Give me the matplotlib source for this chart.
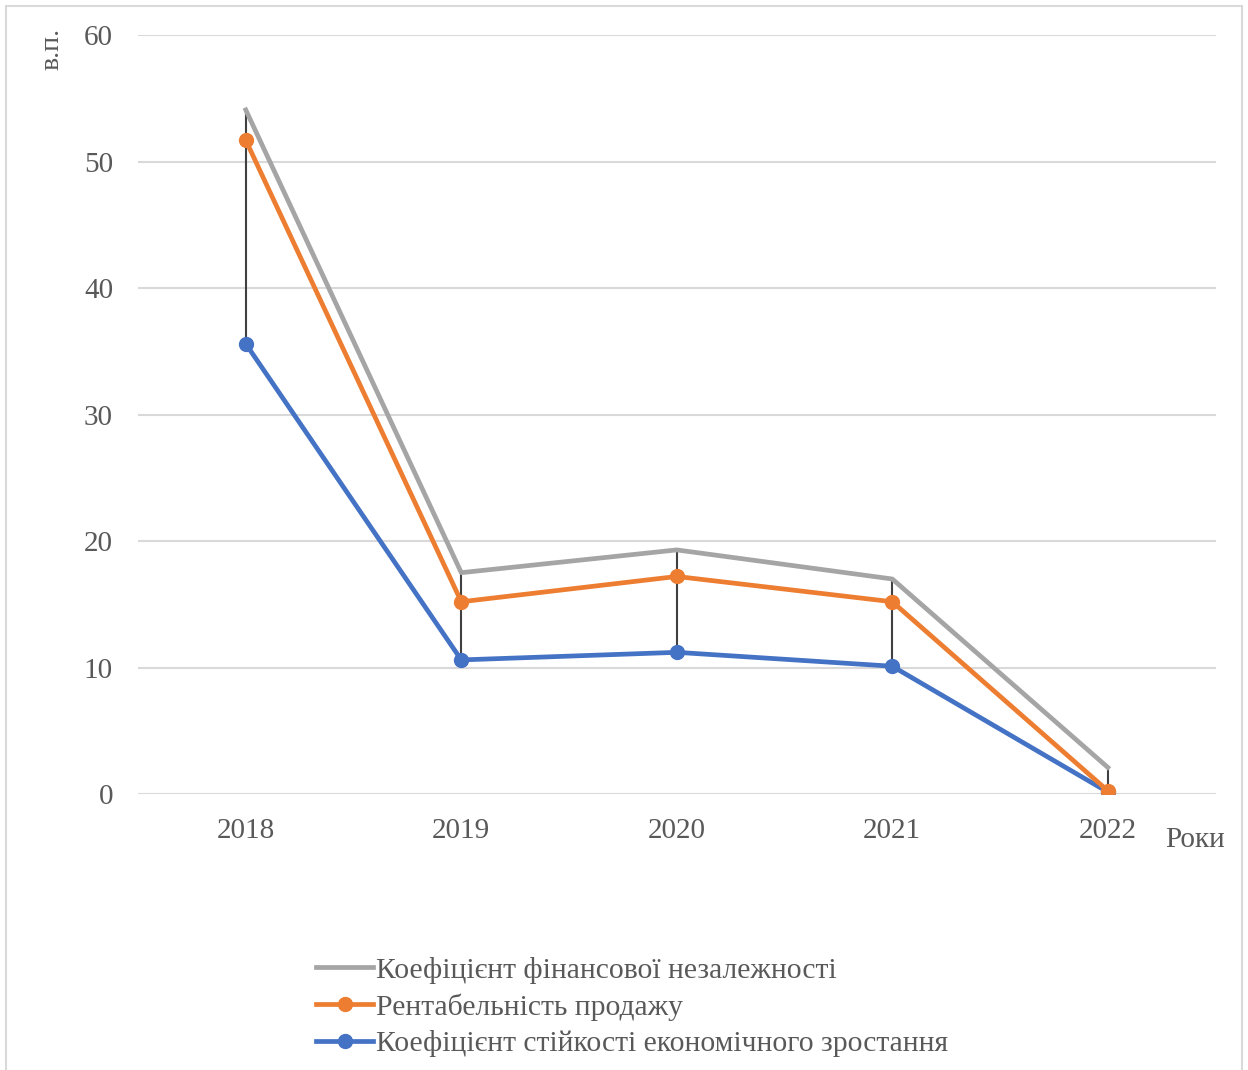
import matplotlib.pyplot as plt
import numpy as np
from matplotlib.patches import Rectangle

plt.rcParams['font.family'] = ['Liberation Serif', 'DejaVu Serif']

years = ['2018', '2019', '2020', '2021', '2022']
fin_independence = [54.1, 17.5, 19.3, 17.0, 2.1]
sales_profitability = [51.7, 15.2, 17.2, 15.2, 0.25]
growth_stability = [35.6, 10.6, 11.2, 10.1, 0.15]

labels = ['Коефіцієнт фінансової незалежності',
          'Рентабельність продажу',
          'Коефіцієнт стійкості економічного зростання']
colors = ['#a5a5a5', '#ed7d31', '#4472c4']
text_color = '#595959'

fig = plt.figure(figsize=(12.48, 10.7), dpi=100)
ax = fig.add_axes([0.1106, 0.258, 0.8634, 0.709])

x = np.arange(len(years))
series = np.array([fin_independence, sales_profitability, growth_stability])

# high-low lines between series at each year
ax.vlines(x, series.min(axis=0), series.max(axis=0), color='#404040', lw=1.5, zorder=2)

ax.plot(x, fin_independence, color=colors[0], lw=3.4, label=labels[0], zorder=3)
ax.plot(x, sales_profitability, color=colors[1], lw=3.4, marker='o', ms=10,
        label=labels[1], zorder=4)
ax.plot(x, growth_stability, color=colors[2], lw=3.4, marker='o', ms=10,
        label=labels[2], zorder=3)

ax.set_xlim(-0.5, len(years) - 0.5)
ax.set_ylim(0, 60)
ax.set_yticks(range(0, 61, 10))
ax.set_xticks(x)
ax.set_xticklabels(years)
ax.tick_params(length=0, labelsize=21, labelcolor=text_color)
ax.tick_params(axis='y', pad=18)
ax.tick_params(axis='x', pad=17)
ax.grid(axis='y', color='#d9d9d9', lw=1.5)
ax.set_axisbelow(True)
for s in ax.spines.values():
    s.set_visible(False)

fig.text(0.042, 0.974, 'в.п.', rotation=90, ha='center', va='top',
         fontsize=20, color=text_color)
fig.text(0.934, 0.215, 'Роки', ha='left', va='center', fontsize=21, color=text_color)

leg = fig.legend(loc='upper left', bbox_to_anchor=(0.2536, 0.106), frameon=False,
                 fontsize=21.3, handlelength=1.9, handletextpad=0.1, labelspacing=0.32,
                 borderaxespad=0, borderpad=0)
for t in leg.get_texts():
    t.set_color(text_color)

fig.patches.append(Rectangle((0.005, -0.01), 0.99, 1.004, transform=fig.transFigure,
                             fill=False, edgecolor='#d9d9d9', lw=1.5))

fig.savefig('out.png', dpi=100)
